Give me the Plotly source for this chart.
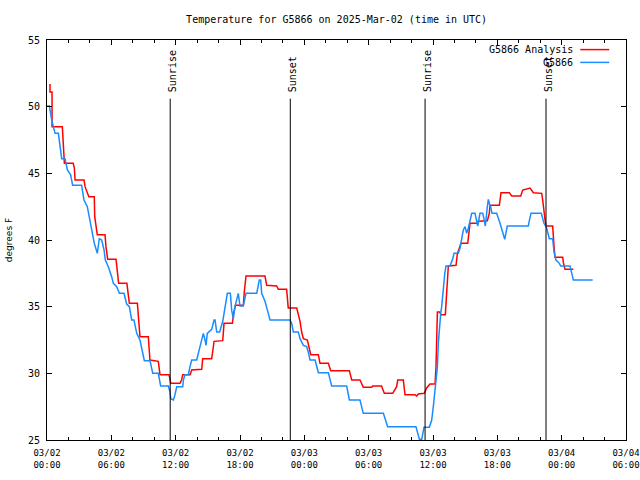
import pandas as pd
import plotly.graph_objects as go

START = pd.Timestamp("2025-03-02 00:00")

# hours since 2025-03-02 00:00 UTC, degrees F
analysis_hours = [0.28, 0.28, 0.47, 0.47, 1.43, 1.55, 1.62, 2.45, 2.55, 2.62, 3.45, 3.55, 3.7, 3.9, 4.41, 4.45, 4.69, 5.41, 5.5, 5.66,
                  6.44, 6.55, 6.68, 7.45, 7.55, 7.68, 8.43, 8.55, 8.67, 9.45, 9.6, 10.38, 10.45, 10.54, 11.38, 11.45, 11.54, 12.4, 12.55, 12.66,
                  13.34, 13.5, 14.43, 14.52, 15.36, 15.5, 15.58, 16.39, 16.51, 17.29, 17.4, 17.58, 18.31, 18.4, 18.56, 20.33, 20.49, 21.42, 21.57, 22.35,
                  22.5, 23.29, 23.45, 23.6, 23.75, 23.91, 24.28, 24.47, 24.6, 25.31, 25.46, 26.24, 26.46, 28.2, 28.42, 29.19, 29.5, 30.28, 30.37, 31.2,
                  31.46, 32.24, 32.61, 32.71, 33.23, 33.39, 34.32, 34.48, 34.63, 35.19, 35.41, 35.72, 36.19, 36.28, 36.35, 36.41, 36.65, 36.72, 37.15, 37.28,
                  37.43, 38.15, 38.27, 38.46, 38.61, 39.24, 39.36, 39.45, 40.13, 40.22, 41.07, 41.25, 41.32, 42.19, 42.34, 43.12, 43.34, 44.18, 44.37, 45.05,
                  45.36, 46.14, 46.23, 46.35, 46.45, 46.54, 47.16, 47.29, 47.38, 48.1, 48.16, 48.31, 49.09]
analysis_temp = [51.7, 51.1, 51.1, 48.5, 48.5, 46.8, 45.75, 45.75, 45.4, 44.5, 44.5, 44.0, 43.6, 43.25, 43.25, 41.75, 40.4, 40.4, 39.5, 38.55,
                 38.55, 37.7, 36.75, 36.75, 36.2, 35.25, 35.25, 34.0, 32.75, 32.75, 31.0, 30.9, 30.3, 29.9, 29.9, 29.6, 29.25, 29.25, 29.5, 29.9,
                 29.9, 30.25, 30.3, 31.1, 31.1, 31.9, 32.4, 32.45, 33.75, 33.75, 34.5, 35.1, 35.1, 36.1, 37.3, 37.3, 36.6, 36.55, 36.3, 36.3,
                 34.9, 34.9, 34.4, 33.9, 33.1, 32.6, 32.5, 31.9, 31.4, 31.4, 30.75, 30.75, 30.2, 30.2, 29.5, 29.5, 28.95, 28.95, 29.05, 29.05,
                 28.5, 28.5, 29.0, 29.5, 29.5, 28.4, 28.4, 28.3, 28.45, 28.5, 28.9, 29.2, 29.2, 30.5, 33.25, 34.6, 34.6, 34.4, 34.4, 36.25,
                 38.05, 38.1, 38.95, 39.4, 39.75, 39.75, 40.8, 41.25, 41.25, 41.4, 41.45, 42.0, 42.6, 42.6, 43.55, 43.55, 43.3, 43.3, 43.75, 43.9,
                 43.55, 43.5, 43.0, 42.0, 41.5, 41.05, 41.05, 39.5, 38.7, 38.7, 38.3, 37.8, 37.8]

obs_hours = [0.0, 0.22, 0.44, 0.59, 0.75, 1.06, 1.27, 1.37, 1.68, 1.9, 2.2, 2.39, 3.23, 3.33, 3.45, 3.76, 3.95, 4.17, 4.41, 4.69,
             4.82, 4.88, 5.1, 5.32, 5.44, 5.72, 6.03, 6.19, 6.5, 6.75, 7.18, 7.43, 7.68, 7.9, 8.11, 8.37, 8.67, 8.83, 9.08, 9.61,
             9.86, 10.38, 10.6, 11.32, 11.47, 11.54, 11.79, 11.94, 12.1, 12.66, 12.72, 12.87, 13.18, 13.34, 13.5, 13.96, 14.1, 14.27, 14.58, 14.74,
             14.83, 14.95, 15.36, 15.58, 15.67, 15.83, 16.1, 16.39, 16.6, 16.82, 17.1, 17.23, 17.38, 17.53, 17.84, 18.0, 18.31, 18.56, 19.56, 19.8,
             19.93, 20.02, 20.33, 20.49, 20.64, 20.8, 22.66, 22.82, 22.97, 23.44, 23.6, 23.91, 24.22, 24.37, 24.53, 25.0, 25.15, 25.31, 26.24, 26.4,
             26.55, 27.95, 28.1, 28.2, 29.19, 29.35, 29.5, 31.37, 31.55, 31.77, 34.41, 34.55, 34.73, 34.95, 35.05, 35.16, 35.66, 35.88, 36.03, 36.19,
             36.28, 36.41, 36.5, 36.59, 36.72, 36.81, 36.96, 37.1, 37.21, 37.59, 37.84, 37.96, 38.36, 38.52, 38.68, 38.83, 38.99, 39.14, 39.3, 39.45,
             39.61, 39.92, 40.05, 40.17, 40.38, 40.64, 40.75, 40.88, 41.07, 41.16, 41.27, 41.38, 41.5, 41.94, 42.25, 42.56, 42.69, 42.93, 44.89, 45.05,
             45.14, 46.1, 46.35, 46.6, 46.85, 47.16, 47.29, 47.47, 47.78, 47.91, 48.78, 48.94, 49.09, 50.89]
obs_temp = [50.05, 50.05, 49.0, 48.45, 48.0, 48.0, 46.75, 46.1, 46.1, 45.25, 44.9, 44.1, 44.1, 43.4, 43.0, 42.5, 41.75, 40.6, 39.75, 39.0,
            39.9, 40.1, 40.0, 39.25, 38.5, 38.0, 37.25, 36.75, 36.5, 36.0, 36.0, 35.2, 35.0, 34.0, 34.0, 33.0, 32.5, 31.9, 30.95, 30.95,
            30.0, 30.0, 29.05, 29.05, 28.6, 28.1, 28.0, 28.4, 29.0, 29.0, 29.5, 29.9, 29.9, 30.5, 31.0, 31.0, 31.5, 32.0, 33.0, 32.5,
            32.1, 33.0, 33.3, 34.0, 34.0, 33.1, 33.1, 33.9, 34.8, 36.0, 36.0, 34.7, 34.1, 35.0, 36.0, 35.05, 35.05, 36.0, 36.0, 37.0,
            37.0, 36.0, 35.4, 35.0, 34.5, 34.0, 34.0, 33.75, 33.1, 33.1, 32.6, 32.1, 32.0, 31.6, 31.0, 31.0, 30.6, 30.05, 30.05, 29.5,
            29.05, 29.05, 28.5, 28.0, 28.0, 27.5, 27.0, 27.0, 26.5, 26.0, 26.0, 25.6, 25.05, 25.05, 25.5, 25.95, 25.95, 26.5, 27.5, 28.75,
            29.5, 30.5, 32.3, 33.5, 34.5, 35.0, 36.4, 37.5, 38.05, 38.05, 38.6, 39.0, 39.0, 39.4, 40.1, 40.75, 41.0, 40.5, 40.9, 41.4,
            42.0, 42.0, 41.5, 41.05, 42.0, 42.0, 41.6, 41.05, 42.5, 43.05, 42.7, 42.5, 42.0, 42.0, 41.25, 40.5, 40.05, 41.05, 41.05, 41.7,
            42.0, 42.0, 41.25, 40.9, 40.1, 40.1, 39.1, 38.5, 38.25, 38.05, 38.05, 37.5, 37.0, 37.0]

sun_event_hours = [11.49, 22.69, 35.26, 46.54]
sun_event_labels = ["Sunrise", "Sunset", "Sunrise", "Sunset"]
series_names = ["G5866 Analysis", "G5866"]
series_colors = ["#ff0000", "#1a8cff"]


def to_time(hours):
    return [START + pd.Timedelta(hours=h) for h in hours]


MONO = "DejaVu Sans Mono"
fig = go.Figure()
fig.add_trace(go.Scatter(x=to_time(analysis_hours), y=analysis_temp, mode="lines",
                         line=dict(color=series_colors[0], width=1.5), name=series_names[0]))
fig.add_trace(go.Scatter(x=to_time(obs_hours), y=obs_temp, mode="lines",
                         line=dict(color=series_colors[1], width=1.5), name=series_names[1]))

for h, lab in zip(to_time(sun_event_hours), sun_event_labels):
    fig.add_shape(type="line", xref="x", yref="y", x0=h, x1=h, y0=25, y1=50.6,
                  line=dict(color="black", width=1))
    fig.add_annotation(x=h, y=50.95, xref="x", yref="y", text=lab, textangle=-90,
                       showarrow=False, xanchor="center", yanchor="bottom", xshift=2,
                       font=dict(family=MONO, size=10, color="black"))

# manual legend (text right-aligned, sample to the right)
leg_y = [0.976, 0.944]
for name, col, yy in zip(series_names, series_colors, leg_y):
    fig.add_annotation(x=0.912, y=yy, xref="paper", yref="paper", text=name, showarrow=False,
                       xanchor="right", yanchor="middle", font=dict(family=MONO, size=10, color="black"))
    fig.add_shape(type="line", xref="paper", yref="paper", x0=0.921, x1=0.971, y0=yy, y1=yy,
                  line=dict(color=col, width=1.5))

fig.update_layout(
    width=640, height=480,
    margin=dict(l=47, r=14, t=40, b=40, autoexpand=False),
    paper_bgcolor="white", plot_bgcolor="white",
    showlegend=False,
    title=dict(text="Temperature for G5866 on 2025-Mar-02 (time in UTC)", x=0.526, xanchor="center",
               y=0.96, yanchor="middle", font=dict(family=MONO, size=10, color="black")),
    font=dict(family=MONO, size=10, color="black"),
)
fig.update_xaxes(
    type="date", range=[START, START + pd.Timedelta(hours=54)], automargin=False,
    dtick=6 * 3600 * 1000, tick0=START, tickformat="%m/%d<br>%H:%M",
    ticks="inside", ticklen=5, tickcolor="black", tickwidth=1, ticklabelstandoff=4,
    minor=dict(dtick=2 * 3600 * 1000, ticks="inside", ticklen=3, tickcolor="black", showgrid=False),
    showline=True, linecolor="black", linewidth=1, mirror="allticks",
    showgrid=False, zeroline=False, tickfont=dict(family=MONO, size=9, color="black"),
)
fig.update_yaxes(
    range=[25, 55], dtick=5, ticks="inside", ticklen=5, tickcolor="black", automargin=False,
    showline=True, linecolor="black", linewidth=1, mirror="allticks",
    showgrid=False, zeroline=False, ticklabelstandoff=4,
    tickfont=dict(family=MONO, size=10, color="black"),
    title=dict(text="degrees F", standoff=13, font=dict(family="DejaVu Sans", size=9, color="black")),
)

fig.write_html("out.html", config={"displayModeBar": False},
               post_script="document.body.style.margin='0';")
